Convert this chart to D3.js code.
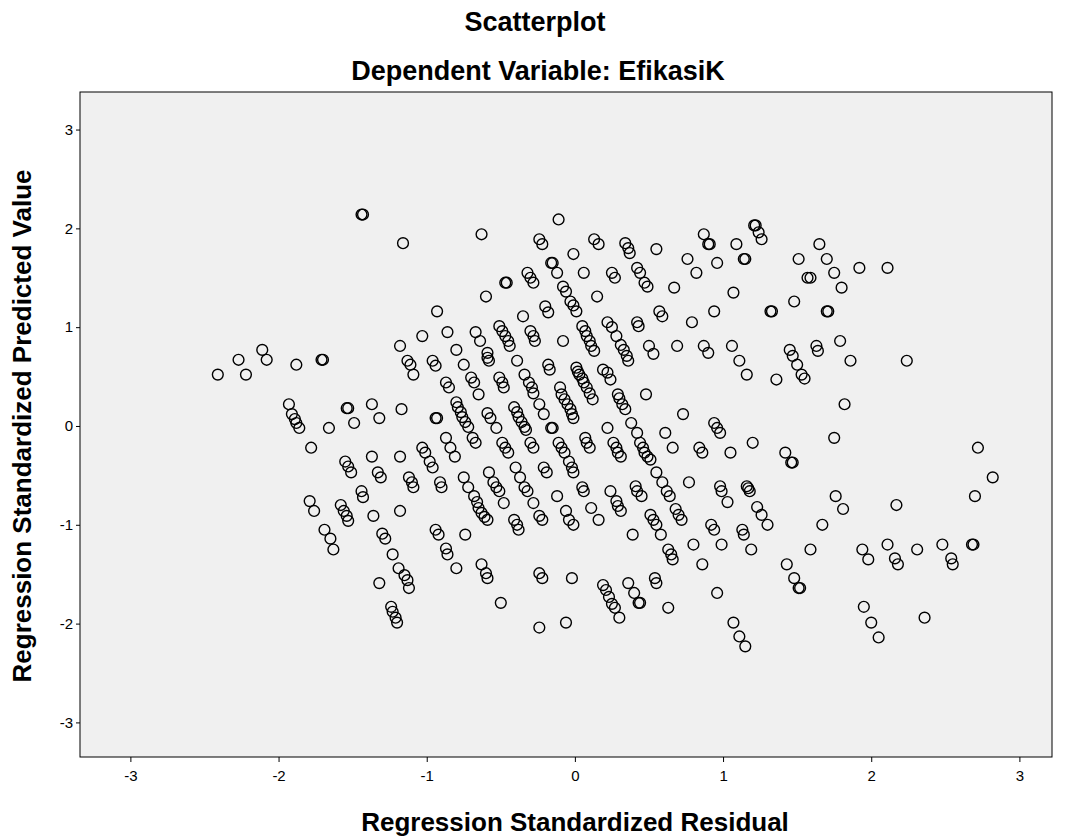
<!DOCTYPE html>
<html>
<head>
<meta charset="utf-8">
<script src="https://cdn.jsdelivr.net/npm/d3@7"></script>
<style>
  body { margin: 0; background: #fff; }
  svg { display: block; font-family: "Liberation Sans", Arial, sans-serif; }
  .tick text { font-size: 15px; fill: #000; }
  .tick line, .domain { stroke: #000; }
</style>
</head>
<body>
<svg id="chart" width="1065" height="836"></svg>
<script>
// Scatter of regression standardized residual vs predicted value
const titleMain = 'Scatterplot';
const titleSub = 'Dependent Variable: EfikasiK';
const xLabel = 'Regression Standardized Residual';
const yLabel = 'Regression Standardized Predicted Value';
const tickValues = [-3, -2, -1, 0, 1, 2, 3];

// residual (x) values
const residual = [
  -2.41, -2.27, -2.22, -2.11, -2.08, -1.88, -1.71, -1.70,
  -1.93, -1.91, -1.89, -1.88, -1.86, -1.78, -1.66, -1.54, -1.53, -1.49, -1.37, -1.32, -1.17,
  -1.55, -1.53, -1.51, -1.37, -1.33, -1.31, -1.18, -1.44, -1.43,
  -1.79, -1.76, -1.58, -1.56, -1.54, -1.53, -1.69, -1.65, -1.63, -1.36, -1.30, -1.28, -1.23,
  -1.32, -1.24, -1.23, -1.21, -1.20, -1.19, -1.15, -1.13, -1.12, -1.18,
  -1.44, -1.43, -1.16, -1.18, -1.13, -1.11, -1.09, -1.03, -0.93, -0.86, -0.96, -0.94, -0.80,
  -0.67, -0.64, -0.75, -0.63, -0.60, -0.59, -0.59, -0.58,
  -0.51, -0.49, -0.47, -0.45, -0.44, -0.47, -0.46, -0.39, -0.32, -0.30, -0.28, -0.35,
  -0.30, -0.28, -0.27, -0.24, -0.22, -0.20, -0.18, -0.18, -0.17, -0.16, -0.15, -0.12, -0.11, -0.08,
  -0.08, -0.06, -0.03, -0.01, 0.01, -0.01, 0.06,
  0.05, 0.07, 0.08, 0.10, 0.11, 0.13, 0.13, 0.16, 0.15, 0.22, 0.25,
  0.28, 0.31, 0.33, 0.35, 0.36, 0.25, 0.27, 0.34, 0.36, 0.37,
  0.42, 0.44, 0.47, 0.49, 0.42, 0.43, 0.50, 0.53, 0.55, 0.57, 0.59, 0.67, 0.69, 0.76, 0.79, 0.82,
  0.87, 0.90, 0.87, 0.90, 0.91, 0.94, 0.96, 1.06, 1.07, 1.09, 1.14, 1.15,
  1.21, 1.22, 1.24, 1.26, 1.32, 1.33, 1.48, 1.51, 1.57, 1.59,
  1.65, 1.70, 1.75, 1.80, 1.92, 2.11, 1.70, 1.71, 1.79, 1.63, 1.64, 1.86, 2.24,
  1.45, 1.47, 1.50, 1.53, 1.55, 1.11, 1.16, 1.36, 1.82, 1.75,
  2.72, 2.82, 2.70, 1.76, 1.81, 2.17, 1.67, 1.59, 1.94, 1.98, 2.11, 2.16, 2.18, 2.31, 2.48,
  2.54, 2.55, 2.68, 2.69, 1.95, 2.00, 2.05, 2.36,
  1.43, 1.48, 1.51, 1.52, 1.07, 1.11, 1.15, 0.96, 0.63,
  0.36, 0.40, 0.43, 0.44, 0.54, 0.55, 0.19, 0.21, 0.23, 0.25, 0.27, 0.30,
  0.63, 0.65, 0.66, 0.86, 0.80, 0.99, 0.92, 0.94, 1.13, 1.14, 1.19, 1.23, 1.26, 1.30,
  0.98, 0.99, 1.03, 1.16, 1.17, 1.18, 0.39, 0.51, 0.53, 0.55, 0.58, 0.68, 0.70, 0.72,
  0.24, 0.28, 0.29, 0.31, 0.41, 0.42, 0.45, 0.55, 0.59, 0.62, 0.64, 0.77,
  0.94, 0.96, 0.98, 0.66, 0.84, 0.86, 1.05, 1.20, 1.42, 1.46, 1.47,
  0.26, 0.28, 0.29, 0.31, 0.44, 0.46, 0.47, 0.49, 0.51, 0.22, 0.38, 0.42, 0.61, 0.73, 0.48,
  0.29, 0.30, 0.32, 0.34, 0.19, 0.22, 0.24,
  0.01, 0.02, 0.03, 0.05, 0.06, 0.08, 0.10, 0.12,
  -0.87, -0.85, -0.70, -0.68, -0.65, -0.51, -0.49, -0.48,
  -0.34, -0.31, -0.29, -0.28, -0.24, -0.21, -0.16, -0.15,
  -0.10, -0.09, -0.07, -0.05, -0.03, -0.02, -0.01, -0.94, -0.93,
  -0.80, -0.79, -0.77, -0.76, -0.74, -0.72, -0.69, -0.67, -0.59, -0.57, -0.53,
  -0.41, -0.39, -0.38, -0.36, -0.34, -0.33, -0.87, -0.84, -0.81, -1.03, -1.01, -0.98, -0.96,
  -0.49, -0.47, -0.45, -0.30, -0.28,
  -0.11, -0.09, -0.07, -0.04, -0.02, -0.01, 0.07, 0.08, 0.10,
  -1.12, -1.10, -1.09, -0.91, -0.90,
  -0.75, -0.72, -0.68, -0.66, -0.65, -0.63, -0.61, -0.59,
  -0.58, -0.55, -0.53, -0.51, -0.48, -0.40, -0.37, -0.34, -0.32, -0.28,
  -0.21, -0.19, -0.12, 0.05, 0.06, -0.06, 0.11, 0.16,
  -0.41, -0.39, -0.38, -0.24, -0.22, -0.04, -0.01,
  -0.94, -0.92, -0.74, -0.87, -0.86, -0.80, -0.63, -0.60, -0.59, -0.50,
  -0.24, -0.22, -0.02, -0.24, -0.06
];

// predicted (y) values, same order
const predicted = [
  0.52, 0.67, 0.52, 0.77, 0.67, 0.62, 0.67, 0.67,
  0.22, 0.12, 0.07, 0.03, -0.02, -0.22, -0.02, 0.18, 0.18, 0.03, 0.22, 0.08, 0.17,
  -0.36, -0.41, -0.47, -0.31, -0.47, -0.52, -0.31, -0.66, -0.72,
  -0.76, -0.86, -0.80, -0.86, -0.91, -0.96, -1.05, -1.14, -1.25, -0.91, -1.09, -1.14, -1.30,
  -1.59, -1.83, -1.88, -1.94, -1.99, -1.44, -1.51, -1.56, -1.64, -0.86,
  2.14, 2.14, 1.85, 0.81, 0.66, 0.62, 0.52, 0.91, 1.16, 0.95, 0.66, 0.61, 0.77,
  0.95, 0.86, 0.62, 1.94, 1.31, 0.74, 0.69, 0.66,
  1.01, 0.96, 0.91, 0.86, 0.81, 1.45, 1.45, 0.66, 1.55, 1.50, 1.45, 1.11,
  0.96, 0.91, 0.86, 1.89, 1.84, 1.21, 1.15, 0.62, 0.57, 1.65, 1.65, 1.55, 2.09, 0.86,
  1.41, 1.36, 1.26, 1.22, 1.16, 1.74, 1.55,
  1.01, 0.96, 0.91, 0.86, 0.81, 0.76, 1.89, 1.84, 1.31, 1.05, 1.00,
  0.91, 0.82, 0.77, 0.71, 0.66, 1.55, 1.50, 1.85, 1.80, 1.75,
  1.60, 1.55, 1.45, 1.41, 1.05, 1.01, 0.81, 0.73, 1.79, 1.16, 1.11, 1.40, 0.81, 1.69, 1.05, 1.55,
  0.81, 0.74, 1.94, 1.84, 1.84, 1.16, 1.65, 0.81, 1.35, 1.84, 1.69, 1.69,
  2.03, 2.03, 1.96, 1.89, 1.16, 1.16, 1.26, 1.69, 1.50, 1.50,
  1.84, 1.69, 1.55, 1.40, 1.60, 1.60, 1.16, 1.16, 0.86, 0.81, 0.76, 0.66, 0.66,
  0.77, 0.71, 0.62, 0.52, 0.48, 0.66, 0.52, 0.47, 0.22, -0.12,
  -0.22, -0.52, -0.71, -0.71, -0.84, -0.80, -1.00, -1.25, -1.25, -1.35, -1.20, -1.34, -1.40, -1.25, -1.20,
  -1.34, -1.40, -1.20, -1.20, -1.83, -1.99, -2.14, -1.94,
  -1.40, -1.54, -1.64, -1.64, -1.99, -2.13, -2.23, -1.69, -1.84,
  -1.59, -1.69, -1.79, -1.79, -1.54, -1.59, -1.61, -1.66, -1.73, -1.80, -1.84, -1.94,
  -1.25, -1.30, -1.35, -1.40, -1.20, -1.20, -1.00, -1.05, -1.05, -1.10, -1.25, -0.82, -0.90, -1.00,
  -0.61, -0.66, -0.77, -0.61, -0.63, -0.66, -1.10, -0.90, -0.95, -1.00, -1.10, -0.84, -0.90, -0.95,
  -0.66, -0.76, -0.81, -0.86, -0.61, -0.66, -0.71, -0.47, -0.57, -0.66, -0.71, -0.57,
  0.03, -0.02, -0.07, -0.22, -0.22, -0.27, -0.27, -0.17, -0.27, -0.37, -0.37,
  -0.17, -0.22, -0.27, -0.31, -0.17, -0.22, -0.27, -0.31, -0.34, -0.02, 0.03, -0.07, -0.07, 0.12, 0.32,
  0.32, 0.28, 0.22, 0.17, 0.57, 0.54, 0.47,
  0.59, 0.55, 0.52, 0.48, 0.44, 0.39, 0.33, 0.27,
  0.44, 0.39, 0.49, 0.44, 0.32, 0.49, 0.44, 0.39,
  0.52, 0.44, 0.39, 0.33, 0.22, 0.12, -0.02, -0.02,
  0.39, 0.32, 0.27, 0.22, 0.17, 0.12, 0.08, 0.08, 0.08,
  0.24, 0.19, 0.14, 0.09, 0.04, -0.01, -0.12, -0.17, 0.13, 0.08, -0.02,
  0.19, 0.14, 0.09, 0.04, -0.01, -0.04, -0.12, -0.22, -0.31, -0.22, -0.27, -0.36, -0.42,
  -0.17, -0.22, -0.27, -0.17, -0.22,
  -0.17, -0.22, -0.27, -0.36, -0.42, -0.47, -0.12, -0.17, -0.22,
  -0.52, -0.57, -0.62, -0.57, -0.62,
  -0.52, -0.62, -0.71, -0.77, -0.83, -0.88, -0.92, -0.95,
  -0.47, -0.57, -0.62, -0.66, -0.78, -0.42, -0.52, -0.62, -0.66, -0.78,
  -0.42, -0.47, -0.71, -0.62, -0.66, -0.86, -0.83, -0.95,
  -0.95, -1.00, -1.05, -0.91, -0.95, -0.95, -1.00,
  -1.05, -1.10, -1.10, -1.24, -1.30, -1.44, -1.40, -1.49, -1.54, -1.79,
  -1.49, -1.54, -1.54, -2.04, -1.99
];

const points = residual.map((r, i) => ({ r, p: predicted[i] }));

const svg = d3.select('#chart');
const plot = { left: 80, top: 92, right: 1052, bottom: 757 };

const x = d3.scaleLinear().domain([-3.34, 3.22]).range([plot.left, plot.right]);
const y = d3.scaleLinear().domain([-3.35, 3.38]).range([plot.bottom, plot.top]);

// plot background + frame
svg.append('rect')
  .attr('x', plot.left).attr('y', plot.top)
  .attr('width', plot.right - plot.left).attr('height', plot.bottom - plot.top)
  .attr('fill', '#f0f0f0').attr('stroke', '#000').attr('stroke-width', 1);

// axes (plain hyphen for negatives, like the original)
const fmt = d => String(d);

const xAxis = svg.append('g')
  .attr('transform', `translate(0,${plot.bottom})`)
  .call(d3.axisBottom(x).tickValues(tickValues).tickSize(5).tickPadding(8).tickFormat(fmt));
xAxis.select('.domain').remove();

const yAxis = svg.append('g')
  .attr('transform', `translate(${plot.left},0)`)
  .call(d3.axisLeft(y).tickValues(tickValues).tickSize(4).tickPadding(3).tickFormat(fmt));
yAxis.select('.domain').remove();

// points
svg.append('g')
  .selectAll('circle')
  .data(points)
  .join('circle')
  .attr('cx', d => x(d.r))
  .attr('cy', d => y(d.p))
  .attr('r', 5.4)
  .attr('fill', 'none')
  .attr('stroke', '#000')
  .attr('stroke-width', 1.4);

// titles
svg.append('text')
  .attr('x', 535).attr('y', 31)
  .attr('text-anchor', 'middle')
  .attr('font-size', 27).attr('font-weight', 'bold')
  .text(titleMain);

svg.append('text')
  .attr('x', 538).attr('y', 80)
  .attr('text-anchor', 'middle')
  .attr('font-size', 27).attr('font-weight', 'bold')
  .text(titleSub);

svg.append('text')
  .attr('x', 575).attr('y', 831)
  .attr('text-anchor', 'middle')
  .attr('font-size', 26).attr('font-weight', 'bold')
  .text(xLabel);

svg.append('text')
  .attr('transform', 'translate(31,426) rotate(-90)')
  .attr('text-anchor', 'middle')
  .attr('font-size', 26).attr('font-weight', 'bold')
  .text(yLabel);
</script>
</body>
</html>
